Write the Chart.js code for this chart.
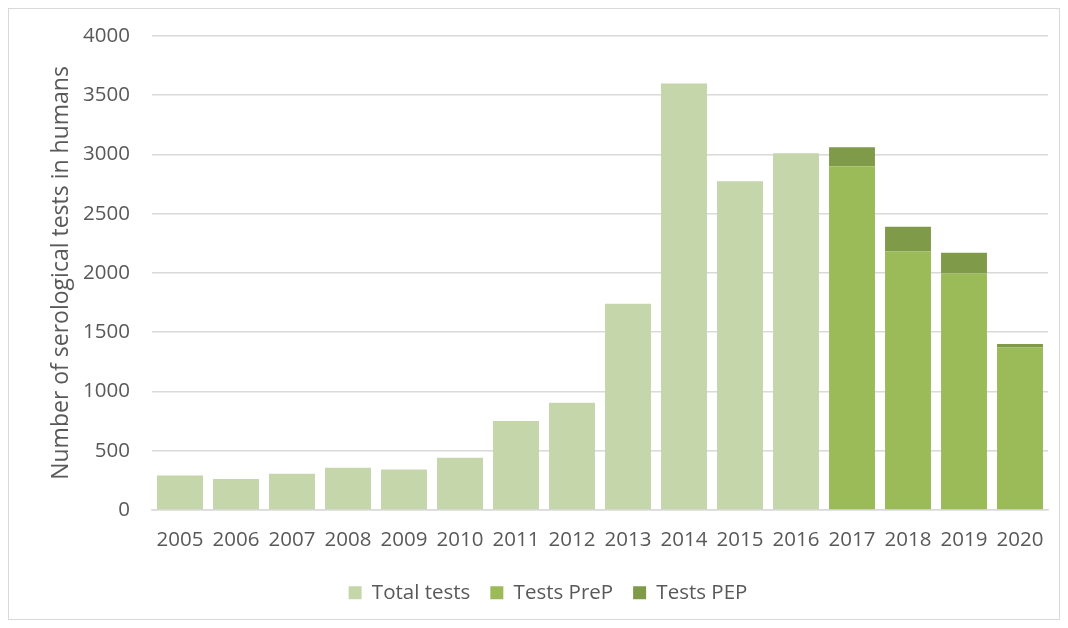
<!DOCTYPE html>
<html>
<head>
<meta charset="utf-8">
<script src="https://cdn.jsdelivr.net/npm/chart.js@4.4.1/dist/chart.umd.min.js"></script>
<style>
  html, body { margin: 0; padding: 0; background: #fff; }
  canvas { position: absolute; left: 0; top: 0; }
  #frame { position: absolute; left: 8px; top: 8px; width: 1052px; height: 612px; border: 1px solid #d9d9d9; box-sizing: border-box; pointer-events: none; }
</style>
</head>
<body>
<canvas id="chart" width="1068" height="628"></canvas>
<div id="frame"></div>
<script>
// Serological tests per year
const years = ['2005','2006','2007','2008','2009','2010','2011','2012','2013','2014','2015','2016','2017','2018','2019','2020'];
const totalTests = [290, 260, 305, 355, 340, 440, 750, 905, 1740, 3600, 2775, 3010, null, null, null, null];
const testsPreP = [null, null, null, null, null, null, null, null, null, null, null, null, 2900, 2180, 1995, 1370];
const testsPEP = [null, null, null, null, null, null, null, null, null, null, null, null, 160, 210, 175, 30];
const yTicks = [0, 500, 1000, 1500, 2000, 2500, 3000, 3500, 4000];

const FONT = "'Open Sans', 'Liberation Sans', sans-serif";
const TEXT = '#595959';

new Chart(document.getElementById('chart'), {
    type: 'bar',
    data: {
        labels: years,
        datasets: [
            { label: 'Total tests', data: totalTests, backgroundColor: '#c5d6aa' },
            { label: 'Tests PreP', data: testsPreP, backgroundColor: '#9bbb59' },
            { label: 'Tests PEP', data: testsPEP, backgroundColor: '#7f9a48' }
        ]
    },
    options: {
        responsive: false,
        animation: false,
        layout: { padding: { left: 48, right: 20, top: 36, bottom: 15 } },
        datasets: { bar: { barPercentage: 1, categoryPercentage: 0.82, borderWidth: 0 } },
        plugins: {
            legend: {
                position: 'bottom',
                labels: { font: { family: FONT, size: 20.5 }, color: TEXT, boxWidth: 13, boxHeight: 13, padding: 20 }
            },
            tooltip: { enabled: false }
        },
        scales: {
            x: {
                stacked: true,
                grid: { display: false },
                border: { color: '#d9d9d9', width: 1.5 },
                ticks: { font: { family: FONT, size: 20.5 }, color: TEXT, maxRotation: 0, autoSkip: false, padding: 10 }
            },
            y: {
                stacked: true,
                min: 0,
                max: 4000,
                afterBuildTicks: axis => { axis.ticks = yTicks.map(v => ({ value: v })); },
                afterFit: axis => { axis.width = 104; },
                grid: { color: '#d9d9d9', lineWidth: 1.5, drawTicks: false },
                border: { display: false },
                ticks: { font: { family: FONT, size: 20.5 }, color: TEXT, padding: 22, callback: v => String(v) },
                title: { display: true, text: 'Number of serological tests in humans', font: { family: FONT, size: 23 }, color: TEXT, padding: { top: 0, bottom: 4 } }
            }
        }
    }
});
</script>
</body>
</html>
